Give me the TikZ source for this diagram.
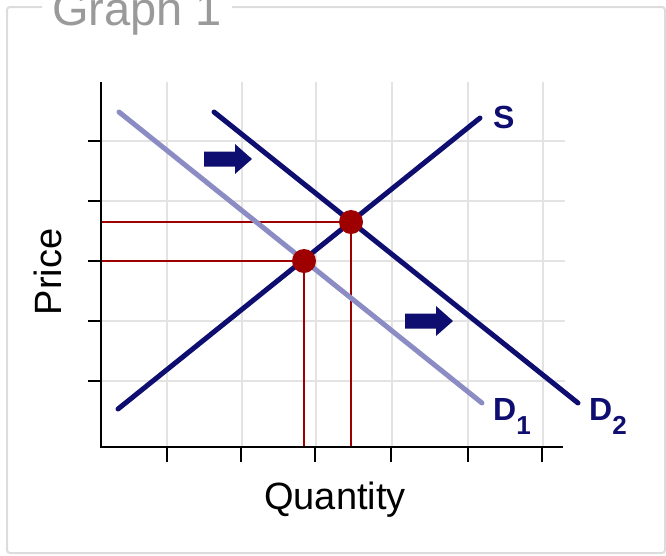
\documentclass[tikz,border=0pt]{standalone}
\usepackage{fontspec}
\setmainfont{Liberation Sans}
\usetikzlibrary{positioning}
\definecolor{cnavy}{HTML}{0E0E70}
\definecolor{clav}{HTML}{8C8CC4}
\definecolor{cred}{HTML}{9E0000}
\definecolor{cgrid}{HTML}{E3E3E3}
\definecolor{cframe}{HTML}{DCDCDC}
\definecolor{ctitle}{HTML}{9A9A9A}
\tikzset{
  every picture/.style={x=1pt, y=-1pt},
  curve/.style={draw=cnavy, line width=5pt, line cap=round},
  oldcurve/.style={curve, draw=clav},
  guide/.style={draw=cred, line width=2pt},
  eqdot/.style={circle, fill=cred, minimum size=24pt, inner sep=0pt},
  gridline/.style={draw=cgrid, line width=1.5pt},
  axis/.style={draw=black, line width=2.5pt},
  axtick/.style={draw=black, line width=2.5pt},
  axlabel/.style={font=\fontsize{38}{40}\selectfont, inner sep=0pt},
  curvelabel/.style={text=cnavy, font=\bfseries\fontsize{32}{34}\selectfont, inner sep=0pt},
  shiftarrow/.pic={\fill[cnavy] (0,-7.5) -- (31,-7.5) -- (31,-15) -- (48,0) -- (31,15) -- (31,7.5) -- (0,7.5) -- cycle;},
}

\begin{document}
\begin{tikzpicture}
  \useasboundingbox (0,0) rectangle (666,555);
  % frame and title
  \draw[cframe, line width=2pt, rounded corners=3pt] (7,7) rectangle (665,553);
  \node[fill=white, inner xsep=10pt, inner ysep=0pt, anchor=base west, text=ctitle,
        font=\fontsize{47}{50}\selectfont] (title) at (42,25) {Graph 1};
  % grid
  \foreach \gx in {167,242,316,392,468,543}
    \draw[gridline] (\gx,82) -- (\gx,447);
  \foreach \gy in {141,201,261,321,381}
    \draw[gridline] (101,\gy) -- (565,\gy);
  \coordinate (o) at (101,447);
  % equilibrium points and guides
  \coordinate (q1) at (304,261);
  \coordinate (q2) at (351,222);
  \draw[guide] (q1) -- (q1 -| o);
  \draw[guide] (q1) -- (q1 |- o);
  \draw[guide] (q2) -- (q2 -| o);
  \draw[guide] (q2) -- (q2 |- o);
  % curves
  \coordinate (s0) at (118,409);
  \coordinate (s1) at (480,118);
  \coordinate (da0) at (119,112);
  \coordinate (da1) at (482,403);
  \coordinate (db0) at (214,112);
  \coordinate (db1) at (578,403);
  \draw[oldcurve] (da0) -- (da1);
  \draw[curve] (db0) -- (db1);
  \draw[curve] (s0) -- (s1);
  \node[eqdot] (e1) at (q1) {};
  \node[eqdot] (e2) at (q2) {};
  % labels
  \node[curvelabel, anchor=base west] (slab) at (493,128) {S};
  \node[curvelabel, anchor=base west] (dalab) at (493,420) {D\raisebox{-14pt}{\fontsize{26}{26}\selectfont 1}};
  \node[curvelabel, anchor=base west] (dblab) at (589,420) {D\raisebox{-14pt}{\fontsize{26}{26}\selectfont 2}};
  % shift arrows
  \pic at (204,159) {shiftarrow};
  \pic at (405,321) {shiftarrow};
  % axes
  \draw[axis] (101,82) -- (o) -- (563,447);
  \foreach \gx in {167,241,315,391,468,542}
    \draw[axtick] (\gx,447) -- (\gx,462);
  \foreach \gy in {141,201,261,321,381}
    \draw[axtick] (88,\gy) -- (101,\gy);
  \node[axlabel, anchor=base] (qlab) at (335,509) {Quantity};
  \node[axlabel, rotate=90, anchor=base] (plab) at (61,272) {Price};
\end{tikzpicture}
\end{document}
